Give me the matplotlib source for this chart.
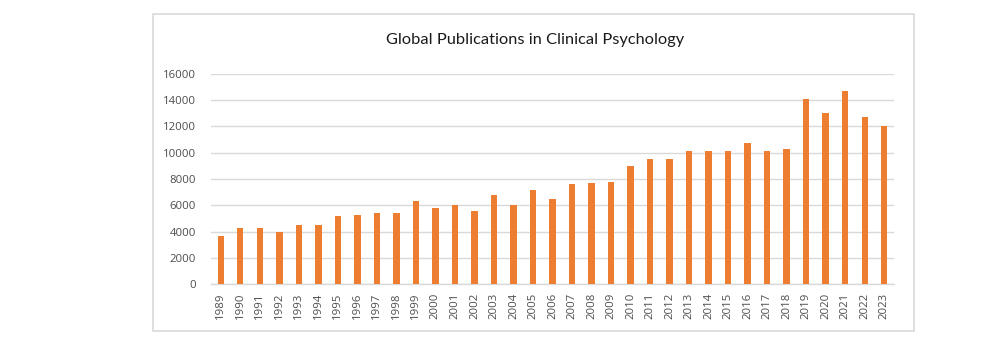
import matplotlib
matplotlib.use("Agg")
import matplotlib.pyplot as plt
from matplotlib.patches import Rectangle

years = [str(y) for y in range(1989, 2024)]
publications = [3700, 4300, 4300, 3950, 4500, 4500, 5200, 5300, 5400, 5400,
                6300, 5800, 6000, 5600, 6800, 6000, 7200, 6450, 7600, 7700,
                7800, 9000, 9550, 9500, 10100, 10100, 10100, 10700, 10150, 10300,
                14100, 13050, 14700, 12700, 12050]
y_ticks = [0, 2000, 4000, 6000, 8000, 10000, 12000, 14000, 16000]
title = "Global Publications in Clinical Psychology"

W, H = 994, 350
fig = plt.figure(figsize=(W / 100, H / 100), dpi=100)
fig.patch.set_facecolor("white")

# outer chart border
x0, y0, x1, y1 = 153, 14, 914, 331
fig.patches.append(Rectangle((x0 / W, 1 - y1 / H), (x1 - x0) / W, (y1 - y0) / H,
                             transform=fig.transFigure, fill=False,
                             edgecolor="#D9D9D9", linewidth=1.2))

ax = fig.add_axes([211 / W, 1 - 284.3 / H, (894 - 211) / W, (284.3 - 73.7) / H])
xs = list(range(len(years)))
ax.bar(xs, publications, width=0.33, color="#ED7D31", zorder=3)
ax.set_xlim(-0.5, len(years) - 0.5)
ax.set_ylim(0, 16000)
ax.set_yticks(y_ticks)
ax.set_yticklabels([str(v) for v in y_ticks], fontsize=8.2, color="#4D4D4D", family="Open Sans")
ax.set_xticks(xs)
ax.set_xticklabels(years, rotation=90, fontsize=8.2, color="#4D4D4D", family="Open Sans")
ax.tick_params(axis="both", length=0)
ax.tick_params(axis="y", pad=11)
ax.tick_params(axis="x", pad=6)
ax.grid(axis="y", color="#D9D9D9", linewidth=1.0, zorder=0)
for s in ["top", "right", "left"]:
    ax.spines[s].set_visible(False)
ax.spines["bottom"].set_color("#D9D9D9")
ax.spines["bottom"].set_linewidth(1.0)

fig.text(535 / W, 1 - 40 / H, title, ha="center", va="center", fontsize=11.8,
         color="#1A1A1A", family="Lato")

fig.savefig("out.png", dpi=100, facecolor="white")
